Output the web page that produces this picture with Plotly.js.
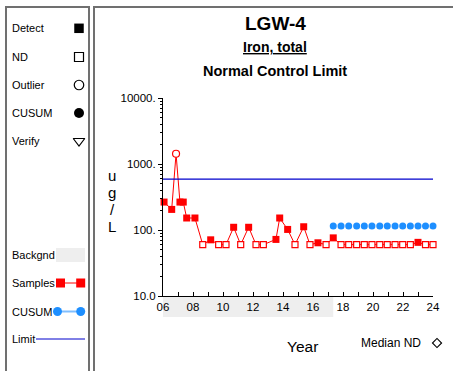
<!DOCTYPE html>
<html><head><meta charset="utf-8">
<script src="https://cdn.plot.ly/plotly-3.0.1.min.js"></script>
<style>html,body{margin:0;padding:0;background:#fff;overflow:hidden}#chart{width:453px;height:371px}</style>
</head><body><div id="chart"></div>
<script>
// ---- data ----
const sampleYears = [6.07, 6.58, 6.87, 7.13, 7.35, 7.58, 8.13, 8.65, 9.18, 9.71, 10.2, 10.71, 11.18, 11.71, 12.2, 12.69, 13.53, 13.78, 14.31, 14.8, 15.38, 15.8, 16.33, 16.87, 17.35, 17.87, 18.38, 18.91, 19.42, 19.93, 20.45, 20.95, 21.47, 21.98, 22.49, 23.0, 23.5, 24.0];
const sampleValues = [265, 205, 1430, 265, 265, 152, 152, 60, 71, 60, 60, 110, 60, 110, 60, 60, 72, 152, 102, 60, 112, 60, 64, 60, 76, 60, 60, 60, 60, 60, 60, 60, 60, 60, 60, 65, 60, 60];
const sampleFlags = ['D','D','O','D','D','D','D','N','D','N','N','D','N','D','N','N','D','D','D','N','D','N','D','N','D','N','N','N','N','N','N','N','N','N','N','D','N','N'];
const cusumYears = [17.35, 17.87, 18.38, 18.91, 19.42, 19.93, 20.45, 20.95, 21.47, 21.98, 22.49, 23.0, 23.5, 24.0];
const cusumValues = [115, 115, 115, 115, 115, 115, 115, 115, 115, 115, 115, 115, 115, 115];
const limitYears = [6, 24];
const limitValues = [590, 590];
const medianNDYears = [24.65];
const medianNDValues = [60];
const backgroundStart = 6;
const backgroundEnd = 17.35;
const xTickVals = [6, 8, 10, 12, 14, 16, 18, 20, 22, 24];
const xTickText = ['06', '08', '10', '12', '14', '16', '18', '20', '22', '24'];
const yTickVals = [10, 100, 1000, 10000];
const yTickText = ['10.0', '100.', '1000.', '10000.'];
const legendTopLabels = ['Detect', 'ND', 'Outlier', 'CUSUM', 'Verify'];
const legendBottomLabels = ['Backgnd', 'Samples', 'CUSUM', 'Limit'];
const titleText = 'LGW-4';
const subtitleText = 'Iron, total';
const limitTitleText = 'Normal Control Limit';
const yTitleLetters = ['u', 'g', '/', 'L'];
const xTitleText = 'Year';
const medianLabel = 'Median ND';

// ---- styling ----
const F = 'Liberation Sans, Arial, Helvetica, sans-serif';
const RED = '#ff0000';
const BLUE = '#1e8fff';
const LIMIT = '#0000cc';

function pick(flag, arr) { return arr.filter((_, i) => sampleFlags[i] === flag); }

const yMinor = [];
for (let d = 10; d < 10000; d *= 10) for (let k = 2; k <= 9; k++) yMinor.push(k * d);

const traces = [
  {x: sampleYears, y: sampleValues, mode: 'lines', line: {color: RED, width: 1}, hoverinfo: 'skip', xaxis: 'x', yaxis: 'y'},
  {x: limitYears, y: limitValues, mode: 'lines', line: {color: LIMIT, width: 1.2}, xaxis: 'x', yaxis: 'y'},
  {x: pick('D', sampleYears), y: pick('D', sampleValues), mode: 'markers', cliponaxis: false,
   marker: {symbol: 'square', size: 7, color: RED, line: {width: 0}}},
  {x: pick('N', sampleYears), y: pick('N', sampleValues), mode: 'markers', cliponaxis: false,
   marker: {symbol: 'square', size: 6, color: '#ffffff', line: {color: RED, width: 1.2}}},
  {x: pick('O', sampleYears), y: pick('O', sampleValues), mode: 'markers', cliponaxis: false,
   marker: {symbol: 'circle', size: 7, color: '#ffffff', line: {color: RED, width: 1.2}}},
  {x: cusumYears, y: cusumValues, mode: 'markers', cliponaxis: false,
   marker: {symbol: 'circle', size: 7, color: BLUE, line: {width: 0}}},
  {x: medianNDYears, y: medianNDValues, mode: 'markers', cliponaxis: false,
   marker: {symbol: 'diamond-open', size: 6, color: RED, line: {width: 1.2}}}
];

// legend glyphs (pixel overlay axes)
const g = (x, y, sym, size, color, lw) => ({x: x, y: y, xaxis: 'x2', yaxis: 'y2', mode: 'markers', cliponaxis: false,
  marker: {symbol: sym, size: size, color: color, line: {width: lw || 0, color: color}}});
traces.push(g([79], [28.3], 'square', 9.5, '#000'));
traces.push(g([79], [57], 'square-open', 9, '#000', 1.2));
traces.push(g([79], [85], 'circle-open', 9.5, '#000', 1.2));
traces.push(g([79], [113], 'circle', 10, '#000'));
traces.push(g([79], [141], 'triangle-down-open', 10, '#000', 1.2));
traces.push({x: [60.5, 80.7], y: [283, 283], xaxis: 'x2', yaxis: 'y2', mode: 'lines+markers', cliponaxis: false,
  line: {color: RED, width: 1}, marker: {symbol: 'square', size: 9, color: RED}});
traces.push({x: [57.5, 80.7], y: [311.5, 311.5], xaxis: 'x2', yaxis: 'y2', mode: 'lines+markers', cliponaxis: false,
  line: {color: '#80bfff', width: 2}, marker: {symbol: 'circle', size: 9, color: BLUE}});
traces.push({x: [36, 85], y: [339, 339], xaxis: 'x2', yaxis: 'y2', mode: 'lines', line: {color: LIMIT, width: 1}});
traces.push(g([437], [343], 'diamond-open', 7, '#000', 1.1));

const ann = [];
const A = (text, x, y, size, opts) => ann.push(Object.assign({text: text, x: x, y: y, xref: 'x2', yref: 'y2',
  showarrow: false, xanchor: 'center', yanchor: 'middle', font: {family: F, size: size, color: '#000'}}, opts || {}));
A('<b>' + titleText + '</b>', 275, 23.5, 19);
A('<b><u>' + subtitleText + '</u></b>', 275, 47, 14);
A('<b>' + limitTitleText + '</b>', 275, 71, 14.5);
const topY = [28.3, 57, 85, 113, 141];
legendTopLabels.forEach((t, i) => A(t, 10, topY[i], 11, {xanchor: 'left'}));
const botY = [254.7, 283, 311.5, 339];
legendBottomLabels.forEach((t, i) => A(t, 10, botY[i], 11, {xanchor: 'left'}));
const yl = [175, 192, 209, 226];
yTitleLetters.forEach((t, i) => A(t, 112, yl[i], 15));
A(xTitleText, 302.5, 346, 15.5);
A(medianLabel, 359, 343, 12, {xanchor: 'left'});

const shapes = [
  {type: 'rect', xref: 'x', yref: 'paper', x0: backgroundStart, x1: backgroundEnd, y0: 1 - 317 / 371, y1: 1 - 296 / 371,
   fillcolor: '#eeeeee', line: {width: 0}, layer: 'below'},
  {type: 'rect', xref: 'x2', yref: 'y2', x0: 56, x1: 85, y0: 248, y1: 262, fillcolor: '#eeeeee', line: {width: 0}, layer: 'below'},
  {type: 'rect', xref: 'x2', yref: 'y2', x0: 6, x1: 89, y0: 7, y1: 400, line: {color: '#707070', width: 2}, layer: 'below'},
  {type: 'rect', xref: 'x2', yref: 'y2', x0: 94, x1: 470, y0: 7, y1: 400, line: {color: '#707070', width: 2}, layer: 'below'}
];

const layout = {
  width: 453, height: 371, margin: {l: 0, r: 0, t: 0, b: 0},
  paper_bgcolor: '#ffffff', plot_bgcolor: 'rgba(0,0,0,0)', showlegend: false,
  font: {family: F, size: 11.5, color: '#000'},
  xaxis: {domain: [163 / 453, 433 / 453], anchor: 'y', range: [6, 24], tickmode: 'array', tickvals: xTickVals, ticktext: xTickText,
    ticks: 'inside', ticklen: 4, tickcolor: '#000', tickwidth: 1, showline: true, linecolor: '#000', linewidth: 1,
    showgrid: false, zeroline: false, fixedrange: true, tickfont: {family: F, size: 11.5},
    minor: {tickmode: 'linear', tick0: 6, dtick: 1, ticks: 'inside', ticklen: 4, tickcolor: '#000', showgrid: false}},
  yaxis: {domain: [75 / 371, 273 / 371], anchor: 'x', type: 'log', range: [1, 4], tickmode: 'array', tickvals: yTickVals, ticktext: yTickText,
    ticks: 'outside', ticklen: 4, tickcolor: '#000', tickwidth: 1, showline: true, linecolor: '#000', linewidth: 1,
    showgrid: false, zeroline: false, fixedrange: true, tickfont: {family: F, size: 11.5},
    minor: {tickmode: 'array', tickvals: yMinor, ticks: 'outside', ticklen: 2, tickcolor: '#000', showgrid: false}},
  xaxis2: {domain: [0, 1], range: [0, 453], anchor: 'y2', visible: false, fixedrange: true},
  yaxis2: {domain: [0, 1], range: [371, 0], anchor: 'x2', visible: false, fixedrange: true},
  shapes: shapes, annotations: ann
};

Plotly.newPlot('chart', traces, layout, {staticPlot: true, displayModeBar: false});
</script></body></html>
